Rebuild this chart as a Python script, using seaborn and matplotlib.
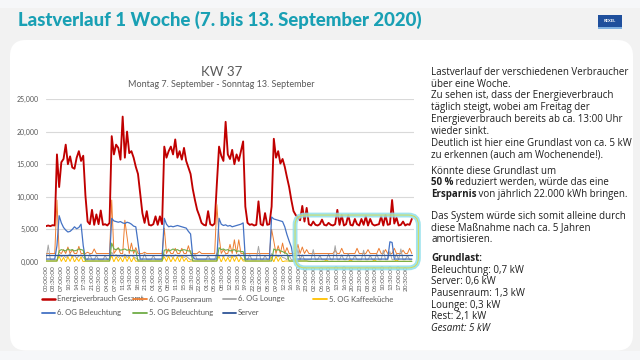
import numpy as np
import pandas as pd
import matplotlib
matplotlib.use("Agg")
import matplotlib.pyplot as plt
import seaborn as sns
from matplotlib.patches import FancyBboxPatch, Rectangle
from matplotlib.lines import Line2D

# hourly readings Mo 7.9. 00:00 ... So 13.9. 23:00, in W
stunden = list(range(168))

gesamt = [
    5500, 5600, 5500, 5650, 5600, 16500, 11500, 15300, 15800, 18000, 15000, 16200,
    14500, 14300, 16000, 17000, 15500, 16300, 10200, 6200, 5800, 8000, 5700, 7300,
    5800, 7900, 5700, 5800, 5600, 6000, 19300, 16500, 18000, 17500, 15700, 22300,
    16000, 20000, 16700, 17000, 16000, 14600, 13500, 10500, 7500, 6000, 7800, 5700,
    5600, 5800, 7000, 5700, 7000, 5800, 17700, 16000, 17000, 17700, 16500, 18800,
    16000, 17000, 15700, 17500, 15500, 14500, 13500, 11200, 9500, 8000, 7100, 6000,
    5700, 5600, 7800, 5800, 5600, 5900, 12000, 17700, 16300, 15500, 21500, 16500,
    15800, 17200, 15000, 16500, 15500, 17000, 18500, 8500, 6000, 5700, 5800, 5600,
    5700, 9300, 5800, 5600, 7500, 5700, 5800, 8500, 18900, 16000, 17000, 15100,
    15800, 14600, 13000, 11500, 9500, 7800, 7200, 6800, 6400, 8600, 6200, 8300,
    5800, 5600, 6200, 5700, 5600, 5800, 6500, 5700, 5600, 6000, 5700, 5600,
    5800, 8000, 5700, 7200, 5600, 5800, 7200, 5700, 5600, 6600, 5800, 5600,
    6600, 5700, 7000, 5600, 6600, 5800, 5600, 5700, 5800, 7000, 5600, 7200,
    5700, 5800, 9500, 5900, 6800, 5600, 5700, 6200, 5600, 5800, 5700, 6600,
]

pausenraum = [
    1300, 1300, 1300, 1300, 1300, 9500, 1500, 1300, 1900, 1300, 2300, 1300,
    1900, 1300, 1300, 2400, 1300, 1300, 1300, 1500, 1300, 1300, 2000, 1300,
    1300, 1300, 1300, 1300, 1300, 1300, 9500, 1300, 1800, 2200, 1300, 1300,
    6400, 3900, 1300, 2900, 1300, 2200, 1300, 1300, 1300, 1500, 1300, 1300,
    1300, 1300, 1300, 1300, 1300, 1300, 5200, 1300, 2000, 1300, 1300, 2100,
    1300, 1300, 2100, 1300, 1300, 2500, 1300, 1300, 1300, 1300, 1600, 1300,
    1300, 1300, 1300, 1300, 1300, 1300, 8800, 3900, 1300, 1900, 1300, 1300,
    2700, 1300, 3400, 1300, 3400, 1300, 1300, 1300, 1300, 1300, 1300, 1300,
    1300, 1300, 1300, 1300, 1300, 1300, 1300, 5000, 3200, 1300, 2500, 1300,
    2900, 1300, 2200, 1300, 1300, 1300, 1300, 2700, 1300, 2300, 1300, 1900,
    1300, 1300, 1300, 1300, 1300, 1300, 1300, 1300, 1300, 1300, 1300, 1300,
    1800, 1300, 1300, 2100, 1300, 1300, 1300, 1300, 1300, 1300, 2100, 1300,
    1300, 1300, 1300, 1900, 1300, 1300, 1300, 1300, 2100, 1300, 1300, 1900,
    1300, 1300, 1300, 2100, 1300, 1300, 1300, 1800, 1300, 1300, 2100, 1300,
]

lounge = [
    350, 2600, 350, 350, 350, 350, 1200, 800, 1000, 700, 900, 1300,
    800, 1000, 600, 900, 1100, 700, 400, 350, 1200, 350, 350, 1000,
    350, 350, 350, 1000, 350, 350, 1500, 900, 1100, 700, 1000, 800,
    1200, 700, 900, 1000, 800, 600, 350, 350, 350, 1300, 350, 350,
    350, 1000, 350, 350, 350, 350, 1200, 800, 1000, 900, 700, 1100,
    900, 800, 1000, 700, 900, 600, 350, 350, 1200, 350, 350, 350,
    350, 350, 1000, 350, 350, 350, 1400, 900, 1000, 800, 1100, 900,
    700, 1000, 800, 900, 1200, 700, 350, 350, 350, 1100, 350, 350,
    350, 2400, 350, 350, 1000, 350, 350, 1300, 900, 1100, 800, 1000,
    700, 600, 350, 1000, 350, 350, 350, 1900, 350, 1100, 350, 350,
    350, 350, 1900, 350, 350, 1000, 350, 350, 350, 1200, 350, 350,
    2500, 350, 350, 1100, 350, 350, 1300, 350, 350, 1000, 350, 350,
    350, 1800, 350, 350, 1000, 350, 350, 1200, 350, 350, 1800, 350,
    350, 1600, 350, 350, 1200, 350, 2000, 350, 350, 1000, 350, 350,
]

kaffeekueche = [
    150, 150, 150, 150, 150, 150, 900, 100, 700, 0, 800, 100,
    900, 0, 600, 100, 800, 0, 150, 150, 150, 150, 150, 150,
    150, 150, 150, 150, 150, 150, 1000, 0, 800, 100, 700, 0,
    900, 100, 800, 0, 700, 100, 150, 150, 150, 150, 150, 150,
    150, 150, 150, 150, 150, 150, 800, 100, 900, 0, 700, 100,
    800, 0, 900, 100, 600, 0, 150, 150, 150, 150, 150, 150,
    150, 150, 150, 150, 150, 150, 150, 900, 0, 800, 100, 700,
    0, 900, 100, 800, 0, 700, 150, 150, 150, 150, 150, 150,
    150, 150, 150, 150, 150, 150, 150, 800, 0, 900, 100, 700,
    0, 150, 150, 150, 150, 150, 150, 150, 150, 150, 150, 150,
    100, 100, 100, 100, 100, 100, 100, 100, 300, 100, 100, 100,
    100, 100, 100, 100, 100, 100, 100, 300, 100, 100, 100, 100,
    100, 100, 100, 100, 100, 100, 300, 100, 100, 100, 100, 100,
    100, 100, 100, 100, 300, 100, 100, 100, 100, 100, 100, 100,
]

beleuchtung_6og = [
    450, 450, 450, 450, 450, 2500, 7100, 6000, 5300, 4900, 4600, 4700,
    5000, 5400, 5100, 5300, 5800, 2500, 450, 450, 450, 450, 450, 450,
    450, 450, 450, 450, 450, 450, 6700, 6300, 6200, 6100, 6200, 6000,
    5900, 6100, 6000, 5800, 5500, 5400, 3000, 450, 450, 450, 450, 450,
    450, 450, 450, 450, 450, 450, 6700, 5800, 5400, 5500, 5400, 5500,
    5600, 5500, 5400, 5300, 5200, 4700, 4300, 800, 450, 450, 450, 450,
    450, 450, 450, 450, 450, 450, 450, 6700, 5800, 5600, 5700, 5500,
    5600, 5400, 5500, 5600, 5700, 5800, 6000, 450, 450, 450, 450, 450,
    450, 450, 450, 450, 450, 450, 450, 6900, 6600, 6500, 6400, 6300,
    6200, 5400, 4200, 3200, 2300, 450, 450, 450, 450, 450, 450, 450,
    450, 450, 450, 450, 450, 450, 450, 450, 450, 450, 450, 450,
    450, 450, 450, 450, 450, 450, 450, 450, 450, 450, 450, 450,
    450, 450, 450, 450, 450, 450, 450, 450, 450, 450, 450, 450,
    450, 3100, 3000, 450, 450, 450, 450, 450, 450, 450, 450, 450,
]

beleuchtung_5og = [
    150, 150, 150, 150, 150, 150, 1700, 1900, 1800, 1700, 2000, 1800,
    1900, 1700, 1800, 2000, 1900, 1800, 150, 150, 150, 150, 150, 150,
    150, 150, 150, 150, 150, 150, 2900, 2000, 1900, 2100, 1800, 1900,
    2000, 1800, 1900, 1700, 1800, 1700, 150, 150, 150, 150, 150, 150,
    150, 150, 150, 150, 150, 150, 1800, 1900, 1700, 1800, 2000, 1800,
    1900, 1700, 1800, 1900, 1800, 1700, 1700, 150, 150, 150, 150, 150,
    150, 150, 150, 150, 150, 150, 150, 2200, 1900, 2000, 1800, 1900,
    1700, 1800, 1900, 1600, 1700, 1600, 1600, 150, 150, 150, 150, 150,
    150, 150, 150, 150, 150, 150, 150, 150, 2000, 1800, 1900, 1700,
    1600, 1400, 1300, 150, 150, 150, 150, 150, 150, 150, 150, 150,
    100, 100, 100, 100, 100, 100, 100, 100, 100, 100, 100, 100,
    100, 100, 100, 100, 100, 100, 100, 100, 100, 100, 100, 100,
    100, 100, 100, 100, 100, 100, 100, 100, 100, 100, 100, 100,
    100, 100, 100, 100, 100, 100, 100, 100, 100, 100, 100, 100,
]

server_stunden = [0, 24, 48, 72, 96, 120, 144, 167]
server = [1100, 1100, 1100, 1100, 1100, 1100, 1100, 1100]

ytick_werte = [0, 5000, 10000, 15000, 20000, 25000]
ytick_labels = ["0,000", "5,000", "10,000", "15,000", "20,000", "25,000"]

xtick_labels = [
    "00:00:00", "03:30:00", "07:00:00", "10:30:00", "14:00:00", "17:30:00",
    "21:00:00", "00:30:00", "04:00:00", "07:30:00", "11:00:00", "14:30:00",
    "18:00:00", "21:30:00", "01:00:00", "04:30:00", "08:00:00", "11:30:00",
    "15:00:00", "18:30:00", "22:00:00", "01:30:00", "05:00:00", "08:30:00",
    "12:00:00", "15:30:00", "19:00:00", "22:30:00", "02:00:00", "05:30:00",
    "09:00:00", "12:30:00", "16:00:00", "19:30:00", "23:00:00", "02:30:00",
    "06:00:00", "09:30:00", "13:00:00", "16:30:00", "20:00:00", "23:30:00",
    "03:00:00", "06:30:00", "10:00:00", "13:30:00", "17:00:00", "20:30:00",
]

serien = [
    ("Energieverbrauch Gesamt", stunden, gesamt, "#C00000", 1.35),
    ("6. OG Pausenraum", stunden, pausenraum, "#ED7D31", 0.7),
    ("6. OG Lounge", stunden, lounge, "#A5A5A5", 0.7),
    ("5. OG Kaffeeküche", stunden, kaffeekueche, "#FFC000", 0.7),
    ("6. OG Beleuchtung", stunden, beleuchtung_6og, "#4472C4", 0.9),
    ("5. OG Beleuchtung", stunden, beleuchtung_5og, "#70AD47", 0.8),
    ("Server", server_stunden, server, "#2F5597", 0.9),
]

sns.set_theme(style="white")
plt.rcParams["font.family"] = ["Lato", "DejaVu Sans"]

W, H = 640, 360
grau = "#595959"

fig = plt.figure(figsize=(6.4, 3.6), dpi=100, facecolor="#f2f2f2")

# background layer
bg = fig.add_axes([0, 0, 1, 1])
bg.set_xlim(0, 1)
bg.set_ylim(0, 1)
bg.axis("off")
bg.set_zorder(0)
bg.add_patch(Rectangle((0, 1 - 8 / H), 1, 8 / H, facecolor="#f6f7f9", edgecolor="none"))
bg.add_patch(Rectangle((0, 0), 1, 9 / H, facecolor="#f6f7f9", edgecolor="none"))
bg.add_patch(FancyBboxPatch((10 / W, 9.5 / H), 623 / W, 310.5 / H,
                            boxstyle="round,pad=0,rounding_size=0.025",
                            mutation_aspect=W / H, facecolor="white", edgecolor="none"))

bg.text(18 / W, 1 - 20 / H, "Lastverlauf 1 Woche (7. bis 13. September 2020)",
        fontsize=13.4, weight="black", color="#19a0b4", va="center", ha="left")

# logo
bg.add_patch(Rectangle((598 / W, 1 - 27 / H), 24 / W, 12 / H, facecolor="#1f4f9c", edgecolor="none"))
bg.add_patch(Rectangle((598 / W, 1 - 28.5 / H), 24 / W, 1.5 / H, facecolor="#7fb0e0", edgecolor="none"))
bg.text(610 / W, 1 - 21 / H, "REXEL", fontsize=3, color="white", weight="bold", ha="center", va="center")

# chart titles
bg.text(221.5 / W, 1 - 72 / H, "KW 37", fontsize=9.5, color=grau, ha="center", va="center")
bg.text(221.5 / W, 1 - 84.5 / H, "Montag 7. September - Sonntag 13. September",
        fontsize=6.5, color=grau, ha="center", va="center")

# chart
ax = fig.add_axes([46 / W, 1 - 262 / H, (414 - 46) / W, (262 - 99) / H])
ax.set_zorder(1)
ax.patch.set_alpha(0)
for i, (name, x, y, farbe, lw) in enumerate(serien):
    sns.lineplot(x=x, y=y, ax=ax, color=farbe, linewidth=lw, zorder=2 + i)

ax.set_xlim(0, 168)
ax.set_ylim(0, 25000)
ax.set_yticks(ytick_werte)
ax.set_yticklabels(ytick_labels)
ax.set_xticks(np.arange(len(xtick_labels)) * 3.5)
ax.set_xticklabels(xtick_labels, rotation=90)
ax.tick_params(axis="y", labelsize=5, colors=grau, length=0, pad=5)
ax.tick_params(axis="x", labelsize=4.6, colors=grau, length=0, pad=2)
ax.yaxis.grid(True, color="#d9d9d9", linewidth=0.8)
ax.set_axisbelow(True)
ax.set_xlabel("")
ax.set_ylabel("")
for s in ax.spines.values():
    s.set_visible(False)

# weekend highlight
px_x = 168 / 368
px_y = 25000 / 163
for farbe, lw, al in [("#8fdfeb", 3.5, 0.85), ("#d2dc55", 0.7, 1.0)]:
    ax.add_patch(FancyBboxPatch((113.7, -900), 56.3, 8100,
                                boxstyle="round,pad=0,rounding_size=4.5",
                                mutation_aspect=px_y / px_x, facecolor="none",
                                edgecolor=farbe, linewidth=lw, alpha=al,
                                clip_on=False, zorder=20))

# legend, one per column
spalten = [[0, 4], [1, 5], [2, 6], [3]]
spalten_x = [41.5 / W, 133 / W, 222.5 / W, 313 / W]
for idx, sx in zip(spalten, spalten_x):
    handles = [Line2D([], [], color=serien[i][3], lw=1.8 if i == 0 else 1.3) for i in idx]
    labels = [serien[i][0] for i in idx]
    fig.legend(handles, labels, loc="upper left", bbox_to_anchor=(sx, 1 - 295.5 / H),
               frameon=False, fontsize=5.5, handlelength=1.8, handletextpad=0.25,
               labelspacing=0.9, borderpad=0, borderaxespad=0, labelcolor=grau)

# right text block
tx = 431 / W
zeilen = [
    (72, [("Lastverlauf der verschiedenen Verbraucher", "normal", "normal")]),
    (83.8, [("über eine Woche.", "normal", "normal")]),
    (95.6, [("Zu sehen ist, dass der Energieverbrauch", "normal", "normal")]),
    (107.4, [("täglich steigt, wobei am Freitag der", "normal", "normal")]),
    (119.2, [("Energieverbrauch bereits ab ca. 13:00 Uhr", "normal", "normal")]),
    (131, [("wieder sinkt.", "normal", "normal")]),
    (142.8, [("Deutlich ist hier eine Grundlast von ca. 5 kW", "normal", "normal")]),
    (154.6, [("zu erkennen (auch am Wochenende!).", "normal", "normal")]),
    (171, [("Könnte diese Grundlast um", "normal", "normal")]),
    (182.7, [("50 %", "bold", "normal"), (" reduziert werden, würde das eine", "normal", "normal")]),
    (194.4, [("Ersparnis", "bold", "normal"), (" von jährlich 22.000 kWh bringen.", "normal", "normal")]),
    (216, [("Das System würde sich somit alleine durch", "normal", "normal")]),
    (227.7, [("diese Maßnahme nach ca. 5 Jahren", "normal", "normal")]),
    (239.4, [("amortisieren.", "normal", "normal")]),
    (258, [("Grundlast:", "bold", "normal")]),
    (269.7, [("Beleuchtung: 0,7 kW", "normal", "normal")]),
    (281.4, [("Server: 0,6 kW", "normal", "normal")]),
    (293.1, [("Pausenraum: 1,3 kW", "normal", "normal")]),
    (304.8, [("Lounge: 0,3 kW", "normal", "normal")]),
    (316.5, [("Rest: 2,1 kW", "normal", "normal")]),
    (328.5, [("Gesamt: 5 kW", "normal", "italic")]),
]
for y_px, teile in zeilen:
    yb = 1 - (y_px + 2.8) / H
    prev = None
    for text, weight, style in teile:
        kw = dict(fontsize=7.0, weight=weight, style=style, color="#1f1f1f",
                  va="baseline", ha="left", family=["Open Sans", "DejaVu Sans"])
        if prev is None:
            prev = bg.text(tx, yb, text, **kw)
        else:
            prev = bg.annotate(text, xy=(1, yb), xycoords=(prev, "axes fraction"), **kw)

fig.savefig("out.png", dpi=100, facecolor=fig.get_facecolor())
